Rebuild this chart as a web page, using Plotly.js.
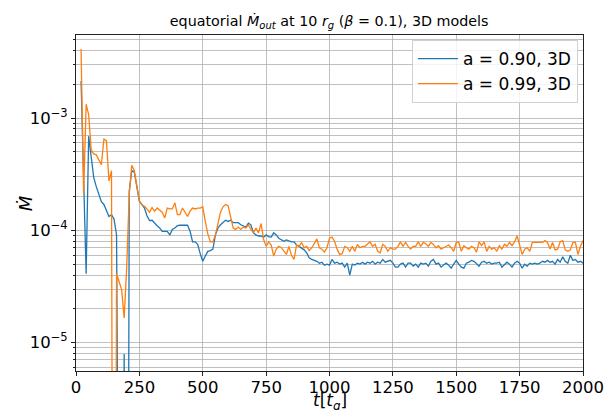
<!DOCTYPE html>
<html>
<head>
<meta charset="utf-8">
<script src="https://cdn.plot.ly/plotly-3.0.1.min.js"></script>
<style>html,body{margin:0;padding:0;background:#fff;}#chart{width:604px;height:410px;}</style>
</head>
<body>
<div id="chart"></div>
<script>
// time samples [t_g]
const tValues = [
  20,30,40,50,60,70,80,90,100,
  110,120,130,140,150,160,170,180,190,200,
  210,220,230,240,250,260,270,280,290,300,
  310,320,330,340,350,360,370,380,390,400,
  410,420,430,440,450,460,470,480,490,500,
  510,520,530,540,550,560,570,580,590,600,
  610,620,630,640,650,660,670,680,690,700,
  710,720,730,740,750,760,770,780,790,800,
  810,820,830,840,850,860,870,880,890,900,
  910,920,930,940,950,960,970,980,990,1000,
  1010,1020,1030,1040,1050,1060,1070,1080,1090,1100,
  1110,1120,1130,1140,1150,1160,1170,1180,1190,1200,
  1210,1220,1230,1240,1250,1260,1270,1280,1290,1300,
  1310,1320,1330,1340,1350,1360,1370,1380,1390,1400,
  1410,1420,1430,1440,1450,1460,1470,1480,1490,1500,
  1510,1520,1530,1540,1550,1560,1570,1580,1590,1600,
  1610,1620,1630,1640,1650,1660,1670,1680,1690,1700,
  1710,1720,1730,1740,1750,1760,1770,1780,1790,1800,
  1810,1820,1830,1840,1850,1860,1870,1880,1890,1900,
  1910,1920,1930,1940,1950,1960,1970,1980,1990,2000
];

// a = 0.90, 3D
const mdotA090 = [
  2.14e-3,3.0e-4,4.1e-5,6.9e-4,4.7e-4,2.95e-4,2.45e-4,2.1e-4,1.8e-4,
  1.7e-4,1.5e-4,1.33e-4,1.38e-4,1.26e-4,9.1e-5,1e-12,1e-12,7.9e-6,1e-12,
  2.24e-4,3.4e-4,3.3e-4,2.5e-4,1.82e-4,1.7e-4,1.58e-4,1.35e-4,1.22e-4,1.23e-4,
  1.15e-4,1.1e-4,1.05e-4,9.8e-5,9.8e-5,9.8e-5,9.1e-5,1.02e-4,1.05e-4,1.1e-4,
  1.11e-4,1.11e-4,1.11e-4,1.11e-4,9.8e-5,7.9e-5,7.9e-5,7.5e-5,6.2e-5,5.3e-5,
  5.9e-5,6.5e-5,6.6e-5,6.8e-5,9.1e-5,1.05e-4,1.12e-4,1.17e-4,1.23e-4,1.2e-4,
  1.23e-4,1.17e-4,1.17e-4,1.17e-4,1.12e-4,1.1e-4,1.07e-4,1.16e-4,1.12e-4,9.5e-5,
  9.1e-5,8.9e-5,8.9e-5,8.7e-5,9.1e-5,8.8e-5,8.7e-5,9.5e-5,9.1e-5,8.5e-5,
  8.3e-5,8.0e-5,8.2e-5,8.0e-5,7.9e-5,7.9e-5,7.4e-5,7.2e-5,7.0e-5,6.7e-5,
  6.3e-5,5.7e-5,5.5e-5,5.4e-5,5.3e-5,5.1e-5,5.2e-5,4.9e-5,5.0e-5,4.9e-5,
  5.5e-5,5.1e-5,5.2e-5,5.0e-5,5.1e-5,4.7e-5,5.1e-5,4.0e-5,5.0e-5,4.9e-5,
  5.1e-5,5.0e-5,5.2e-5,5.0e-5,5.2e-5,5.1e-5,5.3e-5,5.0e-5,5.2e-5,5.1e-5,
  5.5e-5,5.2e-5,5.3e-5,5.4e-5,5.1e-5,4.7e-5,4.7e-5,5.0e-5,5.1e-5,4.7e-5,
  5.1e-5,5.1e-5,4.8e-5,5.0e-5,4.7e-5,5.1e-5,5.0e-5,5.1e-5,4.8e-5,5.3e-5,
  5.5e-5,5.0e-5,5.1e-5,4.7e-5,4.9e-5,5.1e-5,4.9e-5,4.6e-5,5.0e-5,5.4e-5,
  5.0e-5,4.7e-5,4.6e-5,5.1e-5,5.2e-5,5.4e-5,5.3e-5,5.0e-5,4.8e-5,5.2e-5,
  5.3e-5,5.1e-5,5.2e-5,5.0e-5,5.1e-5,5.1e-5,5.2e-5,4.7e-5,5.0e-5,5.2e-5,
  5.0e-5,4.7e-5,5.1e-5,5.3e-5,5.1e-5,4.6e-5,5.0e-5,4.8e-5,5.1e-5,5.0e-5,
  5.1e-5,5.0e-5,5.1e-5,5.3e-5,5.2e-5,5.4e-5,5.2e-5,5.3e-5,5.0e-5,5.5e-5,
  5.2e-5,5.8e-5,5.3e-5,5.1e-5,6.0e-5,5.4e-5,5.5e-5,5.2e-5,5.3e-5,5.1e-5
];

// a = 0.99, 3D
const mdotA099 = [
  4.13e-3,2.1e-4,1.33e-3,1.07e-3,5.2e-4,4.8e-4,4.7e-4,4.3e-4,3.85e-4,
  6.5e-4,6.3e-4,2.75e-4,3.4e-4,1e-12,4.1e-5,3.5e-5,2.95e-5,1.66e-5,4.7e-5,
  2.1e-4,3.8e-4,3.4e-4,2.4e-4,1.82e-4,1.68e-4,1.64e-4,1.55e-4,1.45e-4,1.6e-4,
  1.48e-4,1.58e-4,1.52e-4,1.45e-4,1.29e-4,1.58e-4,1.55e-4,1.55e-4,1.76e-4,1.38e-4,
  1.38e-4,1.58e-4,1.45e-4,1.33e-4,1.48e-4,1.58e-4,1.55e-4,1.58e-4,1.58e-4,1.62e-4,
  1.2e-4,9.3e-5,7.9e-5,7.9e-5,9.1e-5,1.17e-4,1.45e-4,1.62e-4,1.7e-4,1.66e-4,
  1.33e-4,1.05e-4,1.02e-4,1.07e-4,1.02e-4,1.07e-4,1.05e-4,1.12e-4,1.02e-4,9.5e-5,
  1.05e-4,9.5e-5,1.15e-4,8.3e-5,7.2e-5,7.9e-5,7.4e-5,5.9e-5,6.8e-5,7.2e-5,
  7.0e-5,6.6e-5,6.1e-5,7.2e-5,6.0e-5,5.5e-5,7.4e-5,7.2e-5,7.8e-5,7.0e-5,
  7.2e-5,6.6e-5,7.0e-5,7.6e-5,8.4e-5,7.0e-5,6.8e-5,6.4e-5,7.0e-5,8.5e-5,
  8.7e-5,8.0e-5,6.8e-5,6.1e-5,6.2e-5,7.2e-5,7.0e-5,6.5e-5,7.2e-5,6.5e-5,
  7.5e-5,7.0e-5,7.2e-5,7.2e-5,7.5e-5,7.9e-5,7.2e-5,7.5e-5,6.5e-5,6.3e-5,
  7.5e-5,7.2e-5,6.5e-5,7.0e-5,6.8e-5,6.8e-5,7.2e-5,7.9e-5,7.2e-5,7.8e-5,
  7.2e-5,6.8e-5,7.2e-5,7.2e-5,7.9e-5,7.2e-5,7.8e-5,7.6e-5,7.2e-5,7.8e-5,
  7.5e-5,7.0e-5,7.3e-5,6.8e-5,7.0e-5,7.2e-5,7.4e-5,7.0e-5,6.5e-5,7.8e-5,
  7.8e-5,6.5e-5,7.3e-5,7.0e-5,6.8e-5,7.2e-5,7.0e-5,6.4e-5,7.9e-5,7.3e-5,
  7.9e-5,6.5e-5,7.2e-5,6.8e-5,7.0e-5,6.5e-5,7.3e-5,6.8e-5,7.5e-5,7.2e-5,
  7.8e-5,7.3e-5,7.9e-5,8.9e-5,7.2e-5,6.1e-5,6.8e-5,7.0e-5,6.5e-5,7.8e-5,
  7.8e-5,7.8e-5,7.8e-5,7.8e-5,8.1e-5,7.8e-5,6.8e-5,7.8e-5,6.7e-5,6.8e-5,
  7.9e-5,8.1e-5,6.7e-5,6.5e-5,6.7e-5,7.8e-5,7.8e-5,6.1e-5,7.2e-5,8.1e-5
];

const seriesNames = ['a = 0.90, 3D', 'a = 0.99, 3D'];
const xTickVals = [0, 250, 500, 750, 1000, 1250, 1500, 1750, 2000];
const yTickVals = [1e-5, 1e-4, 1e-3];
const yTickText = ['10<sup>\u22125</sup>', '10<sup>\u22124</sup>', '10<sup>\u22123</sup>'];

const yMinor = [];
[1e-6, 1e-5, 1e-4, 1e-3].forEach(d => { for (let k = 2; k <= 9; k++) yMinor.push(k * d); });

const FONT = 'DejaVu Sans, Liberation Sans, sans-serif';
const GRID = '#b0b0b0';
const AXIS = '#222';

const traces = [
  {x: tValues, y: mdotA090, type: 'scatter', mode: 'lines', name: seriesNames[0],
   line: {color: '#1f77b4', width: 1.3}},
  {x: tValues, y: mdotA099, type: 'scatter', mode: 'lines', name: seriesNames[1],
   line: {color: '#ff7f0e', width: 1.3}}
];

const layout = {
  width: 604, height: 410,
  margin: {l: 76, r: 21, t: 35, b: 39, pad: 0},
  paper_bgcolor: '#fff', plot_bgcolor: '#fff',
  font: {family: FONT, color: '#000', size: 16},
  title: {text: 'equatorial <i>\u1E40</i><sub><i>out</i></sub> at 10 <i>r</i><sub><i>g</i></sub> (<i>\u03B2</i> = 0.1), 3D models',
          font: {family: FONT, size: 14.3, color: '#000'}, x: 0.545, xanchor: 'center', y: 0.95, yanchor: 'middle'},
  showlegend: true,
  legend: {x: 0.99, xanchor: 'right', y: 0.985, yanchor: 'top',
           bgcolor: 'rgba(255,255,255,0.8)', bordercolor: '#d0d0d0', borderwidth: 1,
           itemwidth: 40, font: {family: FONT, size: 17, color: '#000'}, tracegroupgap: 0},
  xaxis: {
    range: [0, 2000], tickmode: 'array', tickvals: xTickVals, ticktext: xTickVals.map(String),
    showgrid: true, gridcolor: GRID, gridwidth: 0.8, zeroline: false,
    showline: true, linecolor: AXIS, linewidth: 1, mirror: true,
    ticks: 'outside', ticklen: 3.5, tickcolor: AXIS, tickwidth: 1, ticklabelstandoff: -2,
    tickfont: {family: FONT, size: 16.5, color: '#000'}
  },
  yaxis: {
    type: 'log', range: [-5.253, -2.26], tickmode: 'array', tickvals: yTickVals, ticktext: yTickText,
    showgrid: true, gridcolor: GRID, gridwidth: 0.8, zeroline: false,
    showline: true, linecolor: AXIS, linewidth: 1, mirror: true,
    ticks: 'outside', ticklen: 4, tickcolor: AXIS, tickwidth: 1,
    tickfont: {family: FONT, size: 16.5, color: '#000'},
    minor: {tickmode: 'array', tickvals: yMinor, ticks: 'outside', ticklen: 2,
            tickcolor: AXIS, showgrid: true, gridcolor: GRID, gridwidth: 0.8}
  },
  annotations: [
    {text: '<i>t</i>[<i>t</i><sub><i>g</i></sub>]', xref: 'paper', yref: 'paper', x: 0.5, y: -0.127,
     xanchor: 'center', yanchor: 'bottom', showarrow: false, borderpad: 0,
     font: {family: FONT, size: 17, color: '#000'}},
    {text: '<i>\u1E40</i>', xref: 'paper', yref: 'paper', x: -0.1, y: 0.5, textangle: -90,
     xanchor: 'center', yanchor: 'middle', showarrow: false, font: {family: FONT, size: 18, color: '#000'}}
  ]
};

Plotly.newPlot('chart', traces, layout, {displayModeBar: false, staticPlot: true});
</script>
</body>
</html>
